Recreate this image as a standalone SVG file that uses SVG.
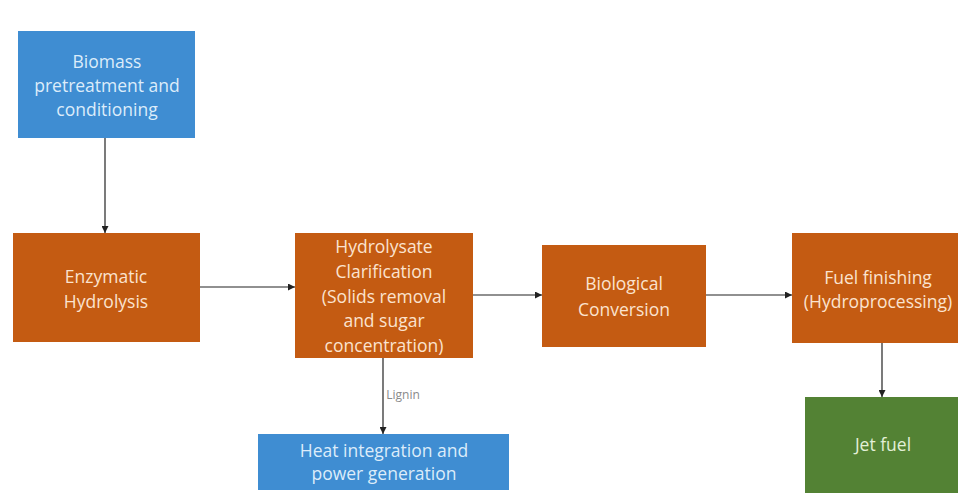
<svg xmlns="http://www.w3.org/2000/svg" width="958" height="493" viewBox="0 0 958 493">
<style>
.blue{fill:#3f8dd2}
.orange{fill:#c45b12}
.green{fill:#538234}
text{font-family:"Open Sans","Liberation Sans",sans-serif;font-size:17.5px;text-anchor:middle}
.tb{fill:#dcecfa}
.to{fill:#fbe3cf}
.tg{fill:#e3f0d8}
.lbl{font-size:12px;fill:#8a8a8a}
.c{stroke:#222;stroke-width:1.2;fill:none;marker-end:url(#ah)}
</style>
<defs>
<marker id="ah" viewBox="0 0 10 10" refX="10" refY="5" markerWidth="7" markerHeight="7" orient="auto" markerUnits="userSpaceOnUse">
<path d="M0,0L10,5L0,10z" fill="#222"/>
</marker>
</defs>
<rect width="958" height="493" fill="#ffffff"/>
<g id="connectors">
<line class="c" x1="105" y1="138" x2="105" y2="233"/>
<line class="c" x1="200" y1="287" x2="295" y2="287"/>
<line class="c" x1="473" y1="295" x2="542" y2="295"/>
<line class="c" x1="706" y1="295" x2="792" y2="295"/>
<line class="c" x1="882" y1="343" x2="882" y2="397"/>
<line class="c" x1="383" y1="358" x2="383" y2="434"/>
<text class="lbl" x="403" y="399">Lignin</text>
</g>
<g id="biomass">
<rect class="blue" x="18" y="31" width="177" height="107"/>
<text class="tb" x="107" y="68">Biomass</text>
<text class="tb" x="107" y="92">pretreatment and</text>
<text class="tb" x="107" y="116">conditioning</text>
</g>
<g id="enzymatic">
<rect class="orange" x="13" y="233" width="187" height="109"/>
<text class="to" x="106" y="283">Enzymatic</text>
<text class="to" x="106" y="308">Hydrolysis</text>
</g>
<g id="hydrolysate">
<rect class="orange" x="295" y="233" width="178" height="125"/>
<text class="to" x="384" y="253">Hydrolysate</text>
<text class="to" x="384" y="278">Clarification</text>
<text class="to" x="384" y="303">(Solids removal</text>
<text class="to" x="384" y="327">and sugar</text>
<text class="to" x="384" y="352">concentration)</text>
</g>
<g id="biological">
<rect class="orange" x="542" y="245" width="164" height="102"/>
<text class="to" x="624" y="290">Biological</text>
<text class="to" x="624" y="316">Conversion</text>
</g>
<g id="fuel">
<rect class="orange" x="792" y="233" width="170" height="110"/>
<text class="to" x="878" y="284">Fuel finishing</text>
<text class="to" x="878" y="308">(Hydroprocessing)</text>
</g>
<g id="jet">
<rect class="green" x="805" y="397" width="157" height="96"/>
<text class="tg" x="883" y="451">Jet fuel</text>
</g>
<g id="heat">
<rect class="blue" x="258" y="434" width="251" height="56"/>
<text class="tb" x="384" y="457">Heat integration and</text>
<text class="tb" x="384" y="480">power generation</text>
</g>
</svg>
